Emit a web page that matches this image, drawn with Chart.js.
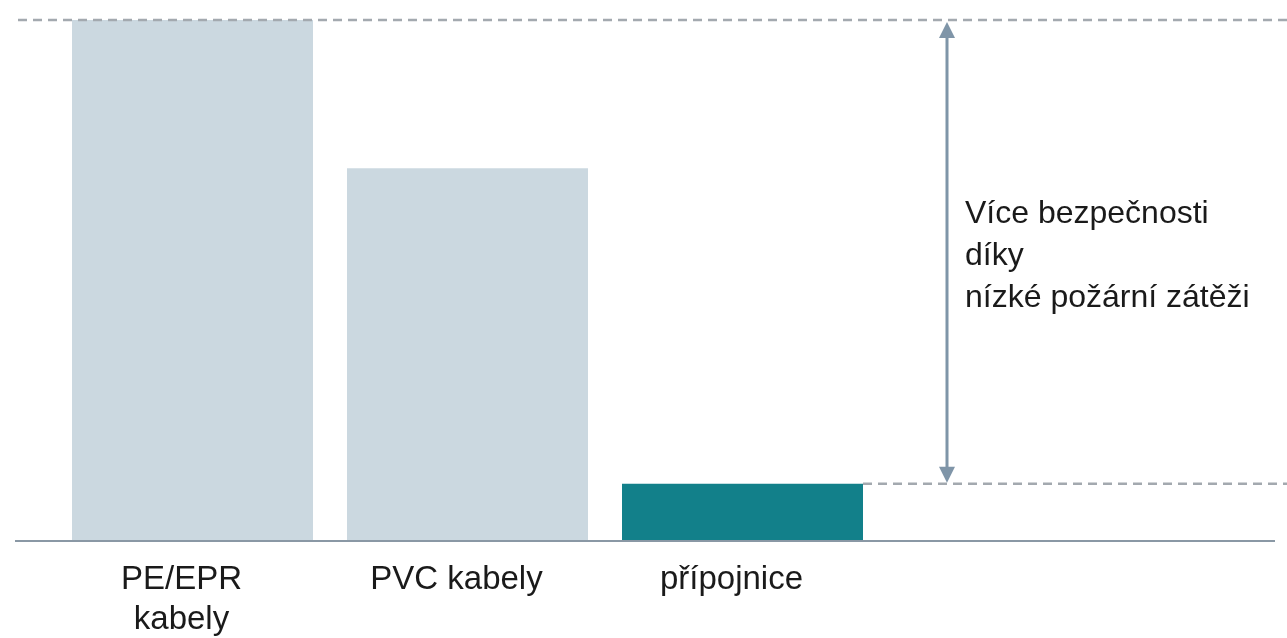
<!DOCTYPE html>
<html>
<head>
<meta charset="utf-8">
<script src="https://cdn.jsdelivr.net/npm/chart.js@4/dist/chart.umd.min.js"></script>
<style>
  html, body { margin: 0; padding: 0; background: #fff; }
  #wrap { width: 1287px; height: 638px; }
</style>
</head>
<body>
<div id="wrap"><canvas id="loadChart"></canvas></div>
<script>
// Fire load by conductor type (relative, PE/EPR = 100)
const categories = [['PE/EPR', 'kabely'], 'PVC kabely', 'přípojnice', ''];
const loadValues = [100, 71.5, 10.8, null];
const barColors = ['#cbd8e0', '#cbd8e0', '#12808a', '#cbd8e0'];
const noteLines = ['Více bezpečnosti', 'díky', 'nízké požární zátěži'];

const FONT = '"Liberation Sans", Arial, sans-serif';

// dashed reference lines, baseline, double arrow and the note
const annotate = {
  id: 'annotate',
  afterDatasetsDraw(chart) {
    const { ctx, scales: { x, y } } = chart;
    const yTop = y.getPixelForValue(loadValues[0]);
    const yLow = y.getPixelForValue(loadValues[2]);
    const yBase = y.getPixelForValue(0);
    const low = chart.getDatasetMeta(0).data[2];
    const barRight = low.x + low.width / 2;

    ctx.save();
    ctx.strokeStyle = '#a3a9af';
    ctx.lineWidth = 2.5;
    ctx.setLineDash([9, 6]);
    ctx.beginPath();
    ctx.moveTo(18, yTop); ctx.lineTo(1287, yTop);
    ctx.moveTo(barRight, yLow); ctx.lineTo(1287, yLow);
    ctx.stroke();
    ctx.setLineDash([]);

    ctx.strokeStyle = '#8a98a5';
    ctx.lineWidth = 2;
    ctx.beginPath();
    ctx.moveTo(15, yBase + 1); ctx.lineTo(1275, yBase + 1);
    ctx.stroke();

    // double arrow between the two levels
    const ax = x.getPixelForValue(3) - x.width / 8 + 67;
    const head = 16;
    ctx.strokeStyle = '#7f95a8';
    ctx.fillStyle = '#7f95a8';
    ctx.lineWidth = 3;
    ctx.beginPath();
    ctx.moveTo(ax, yTop + head); ctx.lineTo(ax, yLow - head);
    ctx.stroke();
    ctx.beginPath();
    ctx.moveTo(ax, yTop + 2); ctx.lineTo(ax - 8, yTop + head + 2); ctx.lineTo(ax + 8, yTop + head + 2);
    ctx.closePath(); ctx.fill();
    ctx.beginPath();
    ctx.moveTo(ax, yLow - 1); ctx.lineTo(ax - 8, yLow - head - 1); ctx.lineTo(ax + 8, yLow - head - 1);
    ctx.closePath(); ctx.fill();

    ctx.fillStyle = '#1a1a1a';
    ctx.font = '32px ' + FONT;
    ctx.textBaseline = 'middle';
    ctx.textAlign = 'left';
    noteLines.forEach((t, i) => ctx.fillText(t, ax + 18, 214 + i * 42));
    ctx.restore();
  }
};

new Chart(document.getElementById('loadChart'), {
  type: 'bar',
  data: {
    labels: categories,
    datasets: [{
      data: loadValues,
      backgroundColor: barColors,
      borderWidth: 0,
      barPercentage: 241 / 275,
      categoryPercentage: 1
    }]
  },
  options: {
    responsive: true,
    maintainAspectRatio: false,
    animation: false,
    layout: { padding: { left: 55, right: 132, top: 20, bottom: 0 } },
    plugins: { legend: { display: false }, tooltip: { enabled: false } },
    scales: {
      x: {
        grid: { display: false, drawTicks: false },
        border: { display: false },
        ticks: {
          color: '#1a1a1a',
          font: { family: FONT, size: 33, lineHeight: 1.22 },
          padding: 20,
          labelOffset: -11,
          maxRotation: 0,
          autoSkip: false
        },
        afterFit(scale) { scale.height = 98; }
      },
      y: {
        display: false,
        min: 0,
        max: 100
      }
    }
  },
  plugins: [annotate]
});
</script>
</body>
</html>
